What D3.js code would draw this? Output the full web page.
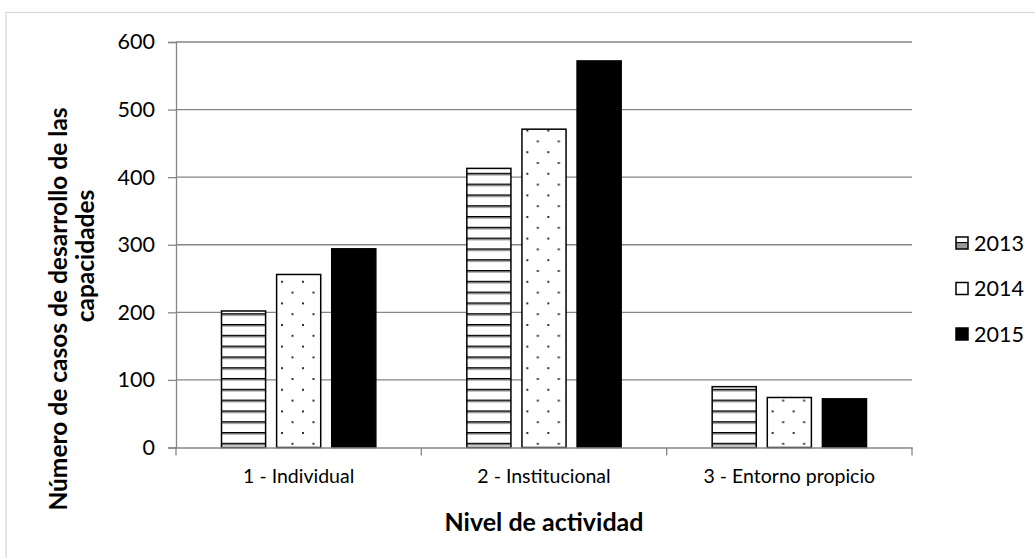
<!DOCTYPE html>
<html>
<head>
<meta charset="utf-8">
<script src="https://cdn.jsdelivr.net/npm/d3@7"></script>
<style>
  body { margin: 0; background: #fff; }
  text { font-family: Lato, "Liberation Sans", sans-serif; fill: #000; }
</style>
</head>
<body>
<div id="chart"></div>
<script>
var categories = ["1 - Individual", "2 - Institucional", "3 - Entorno propicio"]
var years = ["2013", "2014", "2015"]
var values2013 = [202, 413, 90]
var values2014 = [256, 471, 74]
var values2015 = [294, 572, 72]
var yTicks = [0, 100, 200, 300, 400, 500, 600]

var series = [values2013, values2014, values2015]
var fills = ["url(#stripes)", "url(#dots)", "#000"]

var W = 1035, H = 558
var plot = {left: 176, right: 912, top: 42, bottom: 447.5}

var svg = d3.select("#chart").append("svg")
  .attr("width", W)
  .attr("height", H)

// patterns
var defs = svg.append("defs")
var stripes = defs.append("pattern")
  .attr("id", "stripes")
  .attr("patternUnits", "userSpaceOnUse")
  .attr("width", 8).attr("height", 10.8)
stripes.append("rect").attr("width", 8).attr("height", 10.8).attr("fill", "#fff")
stripes.append("rect").attr("y", 0).attr("width", 8).attr("height", 1.6).attr("fill", "#000")
stripes.append("rect").attr("y", 1.6).attr("width", 8).attr("height", 1).attr("fill", "#8a8a8a")

var legendStripes = defs.append("pattern")
  .attr("id", "legendStripes")
  .attr("patternUnits", "objectBoundingBox")
  .attr("width", 1).attr("height", 1)
legendStripes.append("rect").attr("width", 12).attr("height", 12).attr("fill", "#fff")
legendStripes.append("rect").attr("y", 5).attr("width", 12).attr("height", 1.5).attr("fill", "#000")
legendStripes.append("rect").attr("y", 6.5).attr("width", 12).attr("height", 5.5).attr("fill", "#999")

var dots = defs.append("pattern")
  .attr("id", "dots")
  .attr("patternUnits", "userSpaceOnUse")
  .attr("width", 21).attr("height", 21.6)
dots.append("rect").attr("width", 21).attr("height", 21.6).attr("fill", "#fff")
dots.append("rect").attr("x", 0).attr("y", 0).attr("width", 2).attr("height", 2).attr("fill", "#333")
dots.append("rect").attr("x", 10.5).attr("y", 10.8).attr("width", 2).attr("height", 2).attr("fill", "#333")

// outer frame
svg.append("rect")
  .attr("x", 6).attr("y", 12.5)
  .attr("width", W).attr("height", H)
  .attr("fill", "none")
  .attr("stroke", "#d9d9d9")
  .attr("stroke-width", 1.3)

var y = d3.scaleLinear().domain([0, 600]).range([plot.bottom, plot.top])
var x0 = d3.scaleBand().domain(categories).range([plot.left, plot.right]).paddingInner(0).paddingOuter(0)
var x1 = d3.scaleBand().domain(years).range([45.5, x0.bandwidth() - 45.5]).paddingInner(0.2).paddingOuter(0)

// gridlines
svg.append("g")
  .selectAll("line")
  .data(yTicks.slice(1))
  .enter().append("line")
  .attr("x1", plot.left).attr("x2", plot.right)
  .attr("y1", d => y(d)).attr("y2", d => y(d))
  .attr("stroke", "#868686")
  .attr("stroke-width", 1.3)

// bars
var groups = svg.append("g")
  .selectAll("g")
  .data(categories)
  .enter().append("g")
  .attr("transform", d => "translate(" + x0(d) + ",0)")

groups.selectAll("rect")
  .data((c, i) => years.map((yr, j) => ({year: yr, value: series[j][i], k: j})))
  .enter().append("rect")
  .attr("x", d => x1(d.year))
  .attr("y", d => y(d.value))
  .attr("width", x1.bandwidth())
  .attr("height", d => y(0) - y(d.value))
  .attr("fill", d => fills[d.k])
  .attr("stroke", "#000")
  .attr("stroke-width", 1.5)

// y axis
var yAxis = svg.append("g")
  .attr("transform", "translate(" + plot.left + ",0)")
  .call(d3.axisLeft(y).tickValues(yTicks).tickSize(8).tickPadding(13))
yAxis.select(".domain").attr("stroke", "#868686").attr("stroke-width", 1.3)
yAxis.selectAll(".tick line").attr("stroke", "#868686").attr("stroke-width", 1.3)
yAxis.selectAll("text").style("font-size", "21.5px").attr("fill", "#000")

// x axis
var xAxis = svg.append("g")
  .attr("transform", "translate(0," + plot.bottom + ")")
  .call(d3.axisBottom(x0).tickSize(0).tickPadding(22))
xAxis.select(".domain").attr("stroke", "#868686").attr("stroke-width", 1.3)
xAxis.selectAll("text").style("font-size", "19.5px").attr("fill", "#000")
xAxis.selectAll(".bound")
  .data(d3.range(categories.length + 1))
  .enter().append("line")
  .attr("class", "bound")
  .attr("x1", i => plot.left + i * x0.bandwidth())
  .attr("x2", i => plot.left + i * x0.bandwidth())
  .attr("y1", 0).attr("y2", 8)
  .attr("stroke", "#868686")
  .attr("stroke-width", 1.3)

// axis titles
svg.append("text")
  .attr("x", (plot.left + plot.right) / 2)
  .attr("y", 531)
  .attr("text-anchor", "middle")
  .style("font-size", "25px")
  .style("font-weight", "bold")
  .text("Nivel de actividad")

svg.append("text")
  .attr("transform", "translate(58,309) rotate(-90)")
  .attr("text-anchor", "middle")
  .attr("dy", "0.35em")
  .style("font-size", "24.5px")
  .style("font-weight", "bold")
  .text("Número de casos de desarrollo de las")

svg.append("text")
  .attr("transform", "translate(85,256) rotate(-90)")
  .attr("text-anchor", "middle")
  .attr("dy", "0.35em")
  .style("font-size", "24.5px")
  .style("font-weight", "bold")
  .text("capacidades")

// legend
var legend = svg.append("g")
  .selectAll("g")
  .data(years)
  .enter().append("g")
  .attr("transform", (d, i) => "translate(956," + (243 + i * 45.5) + ")")

legend.append("rect")
  .attr("x", 0).attr("y", -6)
  .attr("width", 12).attr("height", 12)
  .attr("fill", (d, i) => i == 0 ? "url(#legendStripes)" : i == 1 ? "#fff" : fills[i])
  .attr("stroke", "#000")
  .attr("stroke-width", 1.5)

legend.append("text")
  .attr("x", 18)
  .attr("dy", "0.35em")
  .style("font-size", "21.5px")
  .text(d => d)
</script>
</body>
</html>
